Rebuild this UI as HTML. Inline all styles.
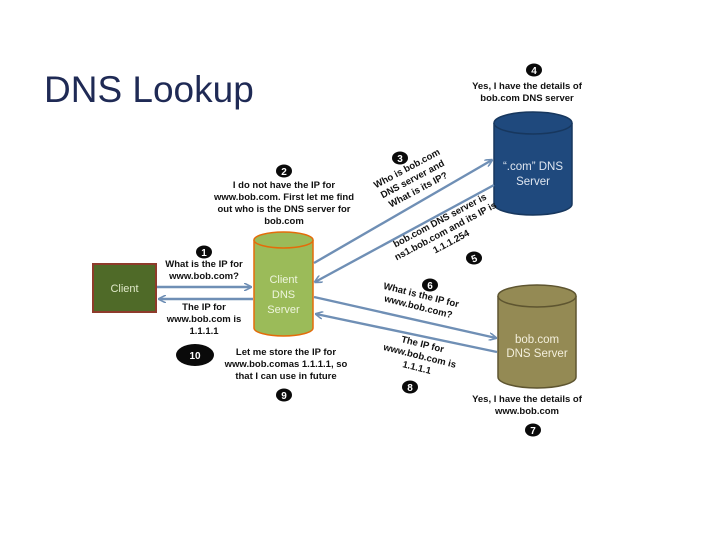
<!DOCTYPE html>
<html><head><meta charset="utf-8"><style>
html,body{margin:0;padding:0;background:#fff;}
svg{display:block;}
text{font-family:"Liberation Sans",sans-serif;}
.t{font-size:9.5px;font-weight:bold;fill:#111;}
.n{font-size:10px;fill:#fff;text-anchor:middle;font-weight:bold;}
</style></head><body>
<svg width="720" height="540" viewBox="0 0 720 540" xmlns="http://www.w3.org/2000/svg">
<defs>
<marker id="a" markerWidth="8" markerHeight="8" refX="7" refY="4" orient="auto" markerUnits="userSpaceOnUse"><path d="M0,0 L8,4 L0,8" fill="none" stroke="#6f8fb5" stroke-width="1.6"/></marker>
</defs>
<text x="44" y="102" font-size="37" fill="#1f2a55">DNS Lookup</text>

<rect x="93" y="264" width="63" height="48" fill="#4f6a28" stroke="#8e3b2b" stroke-width="2"/>
<text x="124.5" y="292" font-size="11" fill="#dfe8c8" text-anchor="middle">Client</text>

<path d="M254,240 L254,328 A29.5,8 0 0 0 313,328 L313,240" fill="#9bbb59" stroke="#e46c0a" stroke-width="1.5"/>
<ellipse cx="283.5" cy="240" rx="29.5" ry="8" fill="#9bbb59" stroke="#e46c0a" stroke-width="1.5"/>
<text x="283.5" y="283" font-size="11" fill="#eef5dd" text-anchor="middle">Client</text>
<text x="283.5" y="298" font-size="11" fill="#eef5dd" text-anchor="middle">DNS</text>
<text x="283.5" y="313" font-size="11" fill="#eef5dd" text-anchor="middle">Server</text>

<path d="M494,123 L494,204 A39,11 0 0 0 572,204 L572,123" fill="#1f497d" stroke="#17375e" stroke-width="1.5"/>
<ellipse cx="533" cy="123" rx="39" ry="11" fill="#1f497d" stroke="#17375e" stroke-width="1.5"/>
<text x="533" y="170" font-size="11.5" fill="#dfe6f0" text-anchor="middle">“.com” DNS</text>
<text x="533" y="185" font-size="11.5" fill="#dfe6f0" text-anchor="middle">Server</text>

<path d="M498,296 L498,377 A39,11 0 0 0 576,377 L576,296" fill="#948a54" stroke="#5e5530" stroke-width="1.5"/>
<ellipse cx="537" cy="296" rx="39" ry="11" fill="#948a54" stroke="#5e5530" stroke-width="1.5"/>
<text x="537" y="343" font-size="11.5" fill="#f3efdc" text-anchor="middle">bob.com</text>
<text x="537" y="357" font-size="11.5" fill="#f3efdc" text-anchor="middle">DNS Server</text>

<g stroke="#6f8fb5" stroke-width="2.4" fill="none">
<line x1="157" y1="287" x2="251" y2="287" marker-end="url(#a)"/>
<line x1="253" y1="299" x2="159" y2="299" marker-end="url(#a)"/>
<line x1="314" y1="263" x2="492" y2="160" marker-end="url(#a)"/>
<line x1="494" y1="185" x2="315" y2="282" marker-end="url(#a)"/>
<line x1="314" y1="297" x2="496" y2="338" marker-end="url(#a)"/>
<line x1="497" y1="352" x2="316" y2="314" marker-end="url(#a)"/>
</g>

<g fill="#0a0a0a">
<ellipse cx="534" cy="70" rx="8" ry="6.5"/>
<ellipse cx="284" cy="171" rx="8" ry="6.5"/>
<ellipse cx="400" cy="158" rx="8" ry="6.5"/>
<ellipse cx="204" cy="252" rx="8" ry="6.5"/>
<ellipse cx="474" cy="258" rx="8" ry="6.5"/>
<ellipse cx="430" cy="285" rx="8" ry="6.5"/>
<ellipse cx="195" cy="355" rx="19" ry="11"/>
<ellipse cx="284" cy="395" rx="8" ry="6.5"/>
<ellipse cx="410" cy="387" rx="8" ry="6.5"/>
<ellipse cx="533" cy="430" rx="8" ry="6.5"/>
</g>
<text class="n" x="534" y="74">4</text>
<text class="n" x="284" y="175">2</text>
<text class="n" x="400" y="162">3</text>
<text class="n" x="204" y="256">1</text>
<text class="n" x="474" y="262" transform="rotate(-20 474 258)">5</text>
<text class="n" x="430" y="289">6</text>
<text class="n" x="195" y="359" font-size="11">10</text>
<text class="n" x="284" y="399">9</text>
<text class="n" x="410" y="391">8</text>
<text class="n" x="533" y="434">7</text>

<g text-anchor="middle">
<text class="t" x="527" y="89">Yes, I have the  details of</text>
<text class="t" x="527" y="101">bob.com DNS server</text>
<text class="t" x="284" y="188">I do not have the  IP for</text>
<text class="t" x="284" y="200">www.bob.com. First let me find</text>
<text class="t" x="284" y="212">out who is the DNS server for</text>
<text class="t" x="284" y="224">bob.com</text>
<text class="t" x="204" y="267">What is the IP for</text>
<text class="t" x="204" y="279">www.bob.com?</text>
<text class="t" x="204" y="310">The IP for</text>
<text class="t" x="204" y="322">www.bob.com is</text>
<text class="t" x="204" y="334">1.1.1.1</text>
<text class="t" x="286" y="355">Let me store the IP for</text>
<text class="t" x="286" y="367">www.bob.comas 1.1.1.1, so</text>
<text class="t" x="286" y="379">that I can use in future</text>
<text class="t" x="527" y="402">Yes, I have the  details of</text>
<text class="t" x="527" y="414">www.bob.com</text>
<g transform="rotate(-28 413 180)">
<text class="t" x="413" y="170">Who is bob.com</text>
<text class="t" x="413" y="182">DNS server and</text>
<text class="t" x="413" y="194">What is its IP?</text>
</g>
<g transform="rotate(-28 446 232)">
<text class="t" x="446" y="222">bob.com DNS server is</text>
<text class="t" x="446" y="234">ns1.bob.com and its IP is</text>
<text class="t" x="446" y="246">1.1.1.254</text>
</g>
<g transform="rotate(14 420 300)">
<text class="t" x="420" y="298">What is the IP for</text>
<text class="t" x="420" y="310">www.bob.com?</text>
</g>
<g transform="rotate(14 420 355)">
<text class="t" x="420" y="347">The IP for</text>
<text class="t" x="420" y="359">www.bob.com is</text>
<text class="t" x="420" y="371">1.1.1.1</text>
</g>
</g>
</svg>
</body></html>
